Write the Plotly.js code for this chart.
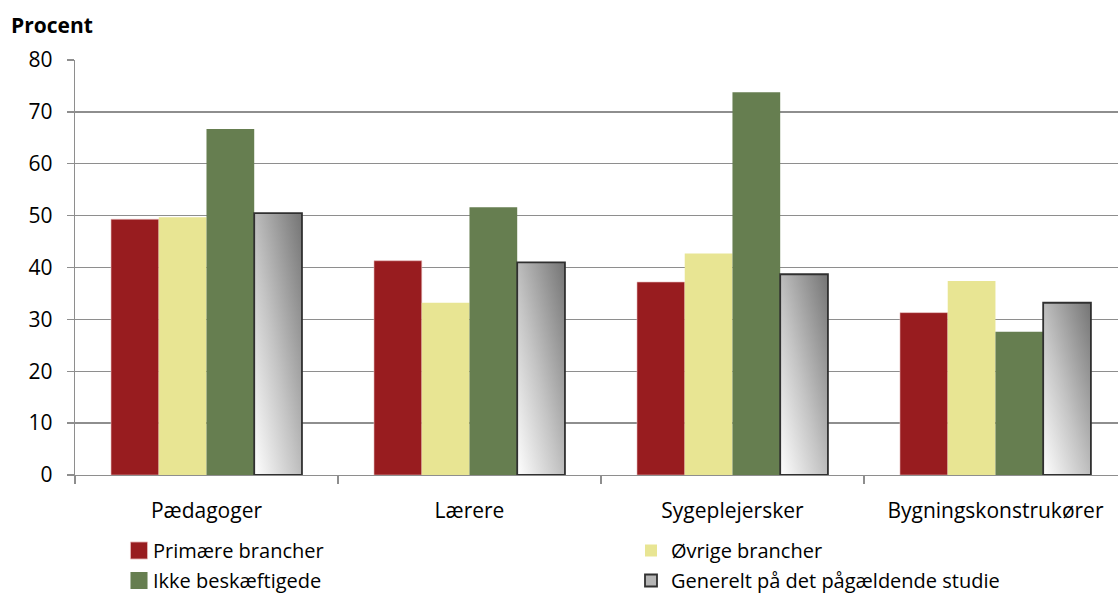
<!DOCTYPE html>
<html>
<head>
<meta charset="utf-8">
<script src="https://cdn.plot.ly/plotly-3.0.1.min.js"></script>
<style>html,body{margin:0;padding:0;background:#fff}#chart{width:1118px;height:593px}</style>
</head>
<body>
<div id="chart"></div>
<script>
const categories = ["Pædagoger", "Lærere", "Sygeplejersker", "Bygningskonstrukører"];
const seriesNames = ["Primære brancher", "Øvrige brancher", "Ikke beskæftigede", "Generelt på det pågældende studie"];
const primaere = [49.3, 41.3, 37.2, 31.3];
const oevrige = [49.7, 33.2, 42.7, 37.4];
const ikkeBeskaeftigede = [66.7, 51.6, 73.8, 27.6];
const generelt = [50.5, 41.0, 38.7, 33.2];
const yTicks = [0, 10, 20, 30, 40, 50, 60, 70, 80];

const FONT = "'Open Sans', Lato, sans-serif";
const traces = [
  {name: seriesNames[0], y: primaere, legend: "legend", legendgroup: "a", marker: {color: "#981c1f", line: {color: "#e6b8b8", width: 0.6}}},
  {name: seriesNames[1], y: oevrige, legend: "legend2", legendgroup: "b", marker: {color: "#e8e593", line: {width: 0}}},
  {name: seriesNames[2], y: ikkeBeskaeftigede, legend: "legend", legendgroup: "c", marker: {color: "#667e50", line: {width: 0}}},
  {name: seriesNames[3], y: generelt, legend: "legend2", legendgroup: "d", marker: {color: "#b5b5b5", line: {color: "#303030", width: 1.8}}}
].map(t => Object.assign({type: "bar", x: categories, hoverinfo: "none"}, t));

const legendCommon = {orientation: "v", xanchor: "left", yanchor: "top", xref: "container", yref: "container",
  itemwidth: 30, tracegroupgap: 1, traceorder: "grouped", bgcolor: "rgba(0,0,0,0)",
  font: {family: FONT, size: 20, color: "#000"}};

const layout = {
  width: 1118, height: 593,
  margin: {l: 75, r: 0, t: 60, b: 118, autoexpand: false},
  paper_bgcolor: "#fff", plot_bgcolor: "#fff",
  barmode: "group", bargap: 0.274, bargroupgap: 0,
  font: {family: FONT, size: 21, color: "#000"},
  showlegend: true,
  legend: Object.assign({}, legendCommon, {x: 113 / 1118, y: 1 - 531 / 593}),
  legend2: Object.assign({}, legendCommon, {x: 631 / 1118, y: 1 - 531 / 593}),
  xaxis: {range: [-0.5, 3.466], showline: true, linecolor: "#8e8e8e", linewidth: 1.3,
          ticks: "outside", tickson: "boundaries", ticklen: 8, tickcolor: "#8e8e8e", tickwidth: 1.3,
          showgrid: false, zeroline: false, fixedrange: true, ticklabelstandoff: 16,
          tickfont: {family: FONT, size: 21, color: "#000"}},
  yaxis: {range: [0, 80], tickvals: yTicks, ticktext: yTicks.map(String),
          showline: true, linecolor: "#8e8e8e", linewidth: 1.3,
          ticks: "outside", ticklen: 7, tickcolor: "#8e8e8e", tickwidth: 1.3,
          showgrid: true, gridcolor: "#8e8e8e", gridwidth: 1.3, zeroline: false, fixedrange: true,
          tickfont: {family: FONT, size: 21, color: "#000"}, ticklabelstandoff: 10},
  annotations: [{text: "<b>Procent</b>", xref: "paper", yref: "paper", x: -0.063, y: 1.085,
                 xanchor: "left", yanchor: "middle", showarrow: false,
                 font: {family: FONT, size: 21, color: "#000"}}]
};

Plotly.newPlot("chart", traces, layout, {staticPlot: true, displayModeBar: false}).then(gd => {
  const svg = gd.querySelector("svg.main-svg");
  let defs = svg.querySelector("defs");
  const ns = "http://www.w3.org/2000/svg";
  const lg = document.createElementNS(ns, "linearGradient");
  lg.setAttribute("id", "grayGrad");
  lg.setAttribute("x1", "0"); lg.setAttribute("y1", "1");
  lg.setAttribute("x2", "1"); lg.setAttribute("y2", "0");
  [["0", "#ffffff"], ["0.45", "#c4c4c4"], ["1", "#747474"]].forEach(([o, c]) => {
    const s = document.createElementNS(ns, "stop");
    s.setAttribute("offset", o); s.setAttribute("stop-color", c);
    lg.appendChild(s);
  });
  defs.appendChild(lg);
  const barTraces = gd.querySelectorAll(".barlayer .trace.bars");
  if (barTraces[3]) barTraces[3].querySelectorAll("path").forEach(p => { p.style.fill = "url(#grayGrad)"; });
  gd.querySelectorAll(".legend .traces").forEach(tr => {
    const txt = tr.querySelector("text.legendtext");
    const isGen = txt && txt.textContent === seriesNames[3];
    tr.querySelectorAll(".legendpoints path").forEach(p => {
      p.setAttribute("transform", "translate(26,0) scale(1.42)");
      if (isGen) { p.style.fill = "url(#grayGrad)"; p.style.strokeWidth = "1.2px"; }
    });
  });
});
</script>
</body>
</html>
